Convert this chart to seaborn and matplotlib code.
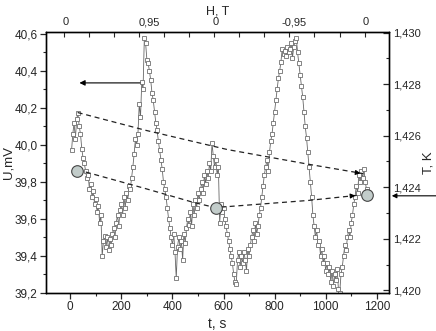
import numpy as np
import matplotlib
matplotlib.use("Agg")
import matplotlib.pyplot as plt
import seaborn as sns
import pandas as pd
from matplotlib.ticker import MultipleLocator, FuncFormatter

# measured voltage, one point every 5 s
t_s = np.arange(5, 1165, 5)
u_mv = [
    39.97, 40.06, 40.12, 40.03, 40.14, 40.17, 40.10, 40.06, 39.98, 39.93,  # 5-50
    39.90, 39.86, 39.82, 39.84, 39.76, 39.79, 39.72, 39.75, 39.68, 39.71,  # 55-100
    39.64, 39.67, 39.58, 39.62, 39.40, 39.48, 39.51, 39.45, 39.50, 39.43,  # 105-150
    39.49, 39.46, 39.52, 39.55, 39.50, 39.58, 39.62, 39.56, 39.65, 39.68,  # 155-200
    39.62, 39.72, 39.66, 39.74, 39.70, 39.78, 39.76, 39.82, 39.88, 39.95,  # 205-250
    40.03, 40.00, 40.06, 40.22, 40.15, 40.34, 40.30, 40.58, 40.55, 40.46,  # 255-300
    40.44, 40.40, 40.35, 40.28, 40.24, 40.18, 40.12, 40.08, 40.02, 39.97,  # 305-350
    39.92, 39.87, 39.80, 39.76, 39.72, 39.66, 39.60, 39.55, 39.50, 39.46,  # 355-400
    39.52, 39.42, 39.28, 39.45, 39.50, 39.44, 39.48, 39.38, 39.52, 39.47,  # 405-450
    39.55, 39.60, 39.57, 39.64, 39.56, 39.68, 39.62, 39.70, 39.66, 39.74,  # 455-500
    39.70, 39.76, 39.80, 39.74, 39.84, 39.79, 39.86, 39.82, 39.90, 39.86,  # 505-550
    40.01, 39.94, 39.88, 39.92, 39.84, 39.88, 39.58, 39.68, 39.64, 39.66,  # 555-600
    39.60, 39.56, 39.52, 39.48, 39.44, 39.40, 39.36, 39.30, 39.26, 39.25,  # 605-650
    39.38, 39.42, 39.34, 39.40, 39.36, 39.42, 39.38, 39.32, 39.44, 39.40,  # 655-700
    39.46, 39.50, 39.54, 39.48, 39.58, 39.52, 39.56, 39.62, 39.66, 39.72,  # 705-750
    39.78, 39.84, 39.88, 39.92, 39.86, 39.96, 40.02, 40.06, 40.12, 40.18,  # 755-800
    40.24, 40.30, 40.36, 40.40, 40.45, 40.52, 40.49, 40.51, 40.48, 40.53,  # 805-850
    40.50, 40.52, 40.55, 40.47, 40.53, 40.56, 40.58, 40.50, 40.44, 40.38,  # 855-900
    40.32, 40.26, 40.18, 40.10, 40.04, 39.96, 39.88, 39.80, 39.72, 39.62,  # 905-950
    39.56, 39.50, 39.54, 39.46, 39.48, 39.40, 39.44, 39.36, 39.40, 39.32,  # 955-1000
    39.36, 39.30, 39.34, 39.26, 39.32, 39.24, 39.30, 39.27, 39.33, 39.22,  # 1005-1050
    39.20, 39.30, 39.34, 39.40, 39.46, 39.43, 39.50, 39.54, 39.50, 39.58,  # 1055-1100
    39.62, 39.68, 39.72, 39.78, 39.74, 39.84, 39.80, 39.86, 39.82, 39.87,  # 1105-1150
    39.80, 39.76,                                                          # 1155-1160
]

# dashed guide curves
upper_t = [29, 292, 615, 935, 1147]
upper_u = [40.175, 40.08, 39.975, 39.895, 39.845]
lower_t = [27, 62, 292, 481, 572, 600, 932, 1127]
lower_u = [39.86, 39.853, 39.765, 39.69, 39.66, 39.665, 39.70, 39.728]

# grey circles
circle_t = [27, 572, 1160]
circle_u = [39.86, 39.66, 39.73]

# top (field) axis
h_tick_t = [-26 + 98.2 * k for k in range(13)]
h_label_t = [-18, 311, 570, 876, 1158]
h_labels = ["0", "0,95", "0", "-0,95", "0"]

df = pd.DataFrame({"t": t_s, "U": u_mv})

sns.set_style("ticks")
plt.rcParams["font.family"] = ["Liberation Sans", "DejaVu Sans"]

fig = plt.figure(figsize=(4.36, 3.31), dpi=100)
ax = fig.add_axes([46 / 436, 1 - 293 / 331, (389 - 46) / 436, (293 - 32) / 331])

sns.lineplot(data=df, x="t", y="U", ax=ax, color="#666666", linewidth=0.6,
             marker="s", markersize=3.4, markerfacecolor="white",
             markeredgecolor="#707070", markeredgewidth=0.6, estimator=None)

ax.plot(upper_t, upper_u, ls=(0, (4, 3)), color="#222222", lw=0.9)
ax.plot(lower_t, lower_u, ls=(0, (4, 3)), color="#222222", lw=0.9)
ax.annotate("", xy=(upper_t[-1], upper_u[-1]), xytext=(upper_t[-1] - 30, upper_u[-1] + 0.006),
            arrowprops=dict(arrowstyle="-|>", color="black", lw=0.8, mutation_scale=7))
ax.annotate("", xy=(lower_t[-1], lower_u[-1]), xytext=(lower_t[-1] - 30, lower_u[-1] - 0.004),
            arrowprops=dict(arrowstyle="-|>", color="black", lw=0.8, mutation_scale=7))

sns.scatterplot(x=circle_t, y=circle_u, ax=ax, s=70, color="#c2ccca",
                edgecolor="#444444", linewidth=0.8, zorder=5)

ax.annotate("", xy=(25, 40.335), xytext=(284, 40.335),
            arrowprops=dict(arrowstyle="-|>", color="black", lw=0.8, mutation_scale=8))
ax.annotate("", xy=(1.0, 39.725), xycoords=("axes fraction", "data"),
            xytext=(circle_t[-1] + 20, 39.725),
            arrowprops=dict(arrowstyle="-|>", color="black", lw=0.8, mutation_scale=7))

ax.set_xlim(-95, 1248)
ax.set_ylim(39.2, 40.61)
ax.xaxis.set_major_locator(MultipleLocator(200))
ax.xaxis.set_minor_locator(MultipleLocator(100))
ax.yaxis.set_major_locator(MultipleLocator(0.2))
ax.yaxis.set_minor_locator(MultipleLocator(0.1))
ax.yaxis.set_major_formatter(FuncFormatter(lambda v, p: f"{v:.1f}".replace(".", ",")))
ax.tick_params(which="major", direction="out", length=4, width=0.9, labelsize=8.5, pad=2)
ax.tick_params(which="minor", direction="out", length=2.5, width=0.8)
ax.set_xlabel("t, s", fontsize=10, labelpad=3)
ax.set_ylabel("U,mV", fontsize=9.5, labelpad=0)

ax_r = ax.twinx()
ax_r.set_ylim(1.4199, 1.43002)
ax_r.yaxis.set_major_locator(MultipleLocator(0.002))
ax_r.yaxis.set_minor_locator(MultipleLocator(0.001))
ax_r.yaxis.set_major_formatter(FuncFormatter(lambda v, p: f"{v:.3f}".replace(".", ",")))
ax_r.tick_params(which="major", direction="in", length=4, width=0.9, labelsize=8, pad=3)
ax_r.tick_params(which="minor", direction="in", length=2.5, width=0.8)
ax_r.set_ylabel("T, K", fontsize=9.5, labelpad=1)

ax_t = ax.twiny()
ax_t.set_xlim(ax.get_xlim())
ax_t.set_xticks(h_label_t)
ax_t.set_xticklabels(h_labels)
ax_t.set_xticks(h_tick_t, minor=True)
ax_t.tick_params(which="major", length=0, labelsize=8, pad=3.5)
ax_t.tick_params(which="minor", direction="in", length=3.5, width=0.8)
ax_t.set_xlabel("H, T", fontsize=9)
ax_t.xaxis.set_label_coords(0.5, 1 + 17.5 / 261)

for a in (ax, ax_r, ax_t):
    for sp in a.spines.values():
        sp.set_linewidth(0.9)
        sp.set_color("black")
        sp.set_visible(True)

fig.savefig("out.png", dpi=100)
